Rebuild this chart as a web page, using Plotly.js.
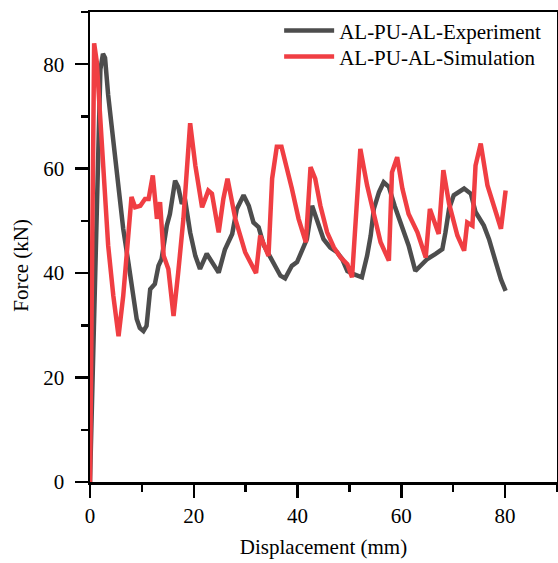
<!DOCTYPE html>
<html>
<head>
<meta charset="utf-8">
<script src="https://cdn.plot.ly/plotly-3.0.1.min.js"></script>
<style>html,body{margin:0;padding:0;background:#fff;}#chart{width:558px;height:563px;}</style>
</head>
<body>
<div id="chart"></div>
<script>
const expName = 'AL-PU-AL-Experiment';
const simName = 'AL-PU-AL-Simulation';

const expX = [0, 0.5, 1.0, 1.6, 2.0, 2.5, 2.9, 3.5, 4.2, 4.8, 5.5, 6.4, 7.4, 8.4, 9.0, 9.6, 10.3, 10.9, 11.6, 12.5, 13.2, 13.8, 14.8, 15.4, 16.4, 17.0, 17.7, 18.3, 19.3, 20.3, 21.2, 22.5, 23.8, 24.8, 26.0, 27.4, 28.3, 29.6, 30.6, 31.5, 32.5, 33.5, 34.4, 35.7, 36.7, 37.6, 38.9, 39.9, 40.9, 41.8, 42.8, 43.8, 45.0, 46.3, 47.6, 48.6, 49.6, 50.8, 52.4, 53.4, 54.1, 54.7, 55.7, 56.6, 57.6, 58.7, 60.0, 61.4, 62.7, 63.7, 65.0, 66.6, 67.9, 68.5, 69.2, 70.1, 72.1, 73.4, 74.3, 75.9, 76.9, 78.2, 79.2, 80.1];
const expY = [0, 20, 45, 70, 79, 82, 81.2, 74.1, 67.7, 61.3, 54.9, 48.5, 42, 35.6, 31.2, 29.5, 28.9, 29.9, 36.9, 37.9, 41.4, 42.7, 49.1, 51.3, 57.7, 56.5, 53.3, 54.2, 47.8, 43.3, 40.8, 43.7, 41.7, 40.1, 44.5, 47.5, 52.3, 54.9, 52.9, 49.7, 48.8, 45.3, 43.7, 41.4, 39.5, 39.0, 41.4, 42.1, 44.3, 46.5, 52.9, 49.7, 46.5, 44.9, 44.0, 42.7, 40.4, 39.8, 39.2, 43.3, 47.2, 52.3, 55.5, 57.4, 56.5, 52.9, 49.4, 45.3, 40.4, 41.4, 42.7, 43.7, 44.6, 47.8, 52.3, 54.9, 56.2, 55.2, 51.7, 49.1, 46.5, 42.1, 38.8, 36.6];

const simX = [0, 0.3, 0.5, 0.8, 1.3, 1.9, 2.6, 3.0, 3.5, 4.5, 5.5, 6.4, 7.4, 8.0, 8.7, 9.7, 10.6, 11.3, 12.1, 12.9, 13.5, 14.2, 15.1, 16.1, 17.0, 18.0, 19.3, 20.3, 21.6, 22.8, 23.5, 24.8, 25.7, 26.5, 28.0, 29.9, 32.0, 32.8, 34.4, 35.1, 36.0, 36.9, 38.9, 40.2, 41.6, 42.5, 43.4, 44.4, 45.7, 47.0, 48.3, 49.6, 50.5, 52.1, 53.4, 54.7, 56.0, 57.6, 58.2, 59.2, 60.2, 61.4, 63.1, 64.7, 65.5, 67.2, 68.1, 69.2, 70.8, 72.1, 72.7, 73.7, 74.3, 75.3, 76.6, 78.2, 79.2, 80.1];
const simY = [0, 30, 60, 84, 80.5, 70.9, 61.3, 51.7, 45.3, 35.6, 27.9, 35.6, 48.5, 54.6, 52.6, 52.9, 54.2, 54.2, 58.7, 50.4, 53.6, 43.3, 40.8, 31.8, 40.1, 50.4, 68.7, 60.6, 52.6, 55.8, 55.2, 47.8, 54.2, 58.1, 50.4, 44.0, 40.0, 47.2, 43.3, 58.1, 64.2, 64.2, 56.2, 50.4, 45.9, 60.3, 58.1, 52.9, 47.8, 44.9, 43.0, 41.7, 39.2, 63.8, 56.8, 51.0, 45.9, 42.4, 59.3, 62.2, 56.2, 51.3, 47.8, 43.0, 52.3, 47.5, 59.7, 53.3, 47.2, 44.3, 49.7, 49.1, 60.6, 64.8, 56.8, 51.7, 48.5, 55.8];

const xTicks = [0, 20, 40, 60, 80];
const yTicks = [0, 20, 40, 60, 80];

const fontFam = '"Liberation Serif", "Times New Roman", serif';

const traces = [
  {x: expX, y: expY, name: expName, type: 'scatter', mode: 'lines',
   line: {color: '#4d4d4d', width: 4.5}, legend: 'legend'},
  {x: simX, y: simY, name: simName, type: 'scatter', mode: 'lines',
   line: {color: '#f03e43', width: 4.5}, legend: 'legend2'}
];

const axisCommon = {
  showgrid: false, zeroline: false, showline: true, mirror: true,
  linecolor: '#000', linewidth: 2.5,
  ticks: 'outside', ticklen: 13, tickwidth: 2.5, tickcolor: '#000',
  tickfont: {family: fontFam, size: 21, color: '#000'},
  minor: {ticks: 'outside', ticklen: 7, tickwidth: 2.5, tickcolor: '#000', dtick: 10},
  tickmode: 'array'
};

const legendCommon = {
  xanchor: 'left', yanchor: 'top',
  bgcolor: 'rgba(0,0,0,0)', borderwidth: 0,
  font: {family: fontFam, size: 21, color: '#000'},
  itemwidth: 50
};

const layout = {
  width: 558, height: 563,
  margin: {l: 90, r: 1, t: 12, b: 81},
  paper_bgcolor: '#fff', plot_bgcolor: '#fff',
  font: {family: fontFam, size: 21, color: '#000'},
  showlegend: true,
  legend: Object.assign({}, legendCommon, {x: 0.405, y: 1.0034}),
  legend2: Object.assign({}, legendCommon, {x: 0.405, y: 0.948}),
  xaxis: Object.assign({}, axisCommon, {
    range: [0, 90], tickvals: xTicks, ticktext: xTicks.map(String),
    title: {text: 'Displacement (mm)', font: {family: fontFam, size: 21, color: '#000'}, standoff: 13}
  }),
  yaxis: Object.assign({}, axisCommon, {
    range: [0, 90], tickvals: yTicks, ticktext: yTicks.map(String),
    ticklabelstandoff: 6
  }),
  annotations: [{
    text: 'Force (kN)', xref: 'paper', yref: 'paper',
    x: -0.148, y: 0.462, xanchor: 'center', yanchor: 'middle',
    textangle: -90, showarrow: false,
    font: {family: fontFam, size: 21, color: '#000'}
  }]
};

Plotly.newPlot('chart', traces, layout, {displayModeBar: false, staticPlot: true});
</script>
</body>
</html>
